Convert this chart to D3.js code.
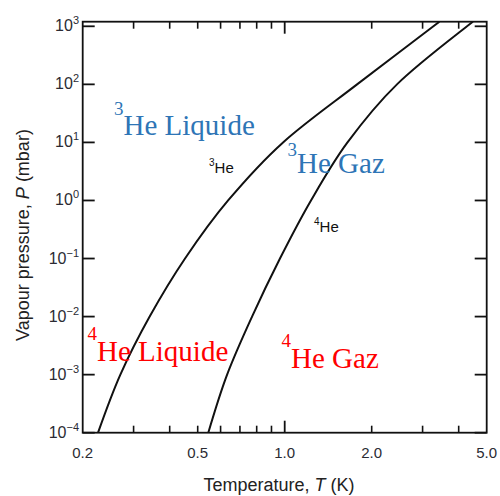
<!DOCTYPE html>
<html>
<head>
<meta charset="utf-8">
<script src="https://cdn.jsdelivr.net/npm/d3@7"></script>
<style>
  html, body { margin: 0; padding: 0; background: #fff; }
  svg { display: block; }
</style>
</head>
<body>
<div id="chart"></div>
<script>
// ---- data ----
const pressures = [1e-4, 1e-3, 1e-2, 1e-1, 1, 10, 100, 1000, 1200];       // mbar
const tempsHe3  = [0.226, 0.270, 0.341, 0.452, 0.637, 0.987, 1.78, 3.27, 3.43]; // K
const tempsHe4  = [0.544, 0.632, 0.771, 0.963, 1.233, 1.649, 2.446, 4.275, 4.48];  // K

const xMinorTicks = [0.3, 0.4, 0.5, 0.6, 0.7, 0.8, 0.9, 2, 3, 4];
const xMajorTicks = [1];
const xLabelTicks = [0.2, 0.5, 1, 2, 5];
const xLabelText  = ["0.2", "0.5", "1.0", "2.0", "5.0"];
const yExponents  = [-4, -3, -2, -1, 0, 1, 2, 3];

const curveLabels = [
  { sup: "3", text: "He" },
  { sup: "4", text: "He" }
];
const regionLabels = [
  { sup: "3", text: "He Liquide", color: "#2E75B6" },
  { sup: "3", text: "He Gaz",     color: "#2E75B6" },
  { sup: "4", text: "He Liquide", color: "#FF0000" },
  { sup: "4", text: "He Gaz",     color: "#FF0000" }
];

(function () {
// ---- layout ----
const W = 500, H = 496;
const pLeft = 82.7, pRight = 486.7, pBottom = 432.7, pTop = 21.7;

const svg = d3.select("#chart").append("svg")
  .attr("width", W).attr("height", H);

const x = d3.scaleLog().domain([0.2, 5]).range([pLeft, pRight]);
const y = d3.scaleLog().domain([1e-4, 1200]).range([pBottom, pTop]);

svg.append("clipPath").attr("id", "clip")
  .append("rect").attr("x", pLeft).attr("y", pTop)
  .attr("width", pRight - pLeft).attr("height", pBottom - pTop);

// curves
const line = d3.line()
  .x(d => x(d[0])).y(d => y(d[1]))
  .curve(d3.curveMonotoneY);

[tempsHe3, tempsHe4].forEach(ts => {
  svg.append("path")
    .attr("clip-path", "url(#clip)")
    .attr("d", line(ts.map((t, i) => [t, pressures[i]])))
    .attr("fill", "none")
    .attr("stroke", "#111")
    .attr("stroke-width", 2);
});

// frame
svg.append("rect")
  .attr("x", pLeft).attr("y", pTop)
  .attr("width", pRight - pLeft).attr("height", pBottom - pTop)
  .attr("fill", "none").attr("stroke", "#111").attr("stroke-width", 1.8);

const tickColor = "#111";
const xt = svg.append("g");
xMinorTicks.forEach(v => {
  [[pBottom, pBottom - 7], [pTop, pTop + 7]].forEach(([a, b]) => {
    xt.append("line").attr("x1", x(v)).attr("x2", x(v)).attr("y1", a).attr("y2", b)
      .attr("stroke", tickColor).attr("stroke-width", 1.6);
  });
});
xMajorTicks.forEach(v => {
  [[pBottom, pBottom - 12], [pTop, pTop + 12]].forEach(([a, b]) => {
    xt.append("line").attr("x1", x(v)).attr("x2", x(v)).attr("y1", a).attr("y2", b)
      .attr("stroke", tickColor).attr("stroke-width", 1.8);
  });
});
yExponents.forEach(e => {
  const yy = y(Math.pow(10, e));
  [[pLeft, pLeft + 12], [pRight, pRight - 12]].forEach(([a, b]) => {
    xt.append("line").attr("x1", a).attr("x2", b).attr("y1", yy).attr("y2", yy)
      .attr("stroke", tickColor).attr("stroke-width", 1.8);
  });
});

const labelColor = "#2b2b33";
const sans = "Liberation Sans, Arial, sans-serif";
const serif = "Liberation Serif, Times New Roman, serif";

// x tick labels
xLabelTicks.forEach((v, i) => {
  svg.append("text")
    .attr("x", x(v)).attr("y", 458)
    .attr("text-anchor", "middle")
    .attr("font-family", sans).attr("font-size", 15)
    .attr("fill", labelColor)
    .text(xLabelText[i]);
});

// y tick labels
yExponents.forEach(e => {
  const t = svg.append("text")
    .attr("x", 79).attr("y", y(Math.pow(10, e)) + 5)
    .attr("text-anchor", "end")
    .attr("font-family", sans).attr("font-size", 16)
    .attr("fill", labelColor);
  t.append("tspan").text("10");
  t.append("tspan").attr("dy", -7).attr("font-size", 11)
    .text(e < 0 ? "\u2212" + Math.abs(e) : String(e));
});

// axis titles
const xt2 = svg.append("text")
  .attr("x", 279).attr("y", 491)
  .attr("text-anchor", "middle")
  .attr("font-family", sans).attr("font-size", 18)
  .attr("fill", "#222");
xt2.append("tspan").text("Temperature,  ");
xt2.append("tspan").attr("font-style", "italic").text("T");
xt2.append("tspan").text(" (K)");

const yt = svg.append("text")
  .attr("transform", "translate(29,235) rotate(-90)")
  .attr("text-anchor", "middle")
  .attr("font-family", sans).attr("font-size", 18)
  .attr("fill", "#222");
yt.append("tspan").text("Vapour pressure, ");
yt.append("tspan").attr("font-style", "italic").text("P");
yt.append("tspan").text(" (mbar)");

// small curve labels
const curvePos = [[209, 173.3], [314, 231.7]];
curveLabels.forEach((d, i) => {
  const t = svg.append("text")
    .attr("x", curvePos[i][0]).attr("y", curvePos[i][1])
    .attr("font-family", sans).attr("font-size", 15).attr("fill", "#111");
  t.append("tspan").attr("font-size", 10).attr("dy", -7).text(d.sup);
  t.append("tspan").attr("dy", 7).text(d.text);
});

// region labels
const regionPos = [[114, 135, 20], [287.5, 173.3, 17.5], [87.5, 361, 21], [281.5, 367.7, 21]];
regionLabels.forEach((d, i) => {
  const [lx, ly, up] = regionPos[i];
  const t = svg.append("text")
    .attr("x", lx).attr("y", ly)
    .attr("font-family", serif).attr("fill", d.color);
  t.append("tspan").attr("font-size", 19).attr("dy", -up).text(d.sup);
  t.append("tspan").attr("font-size", 29).attr("dy", up).text(d.text);
});
})();
</script>
</body>
</html>
